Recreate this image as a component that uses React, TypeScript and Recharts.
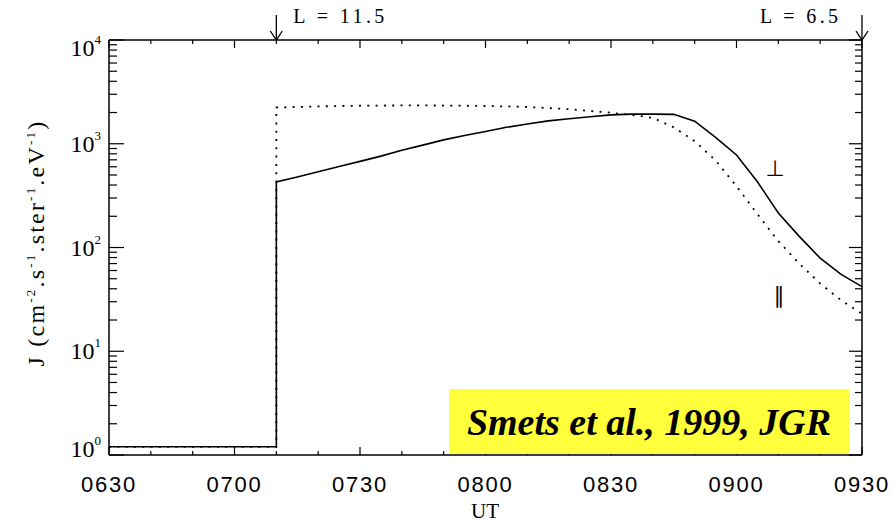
import { Line, LineChart, ReferenceLine, XAxis, YAxis } from "recharts";

// minutes after 06:30 UT
const times = [
  0, 40, 40, 45, 50, 55, 60, 65, 70, 75, 80, 85, 90, 95, 100, 105, 110, 115,
  120, 125, 130, 135, 140, 145, 150, 155, 160, 165, 170, 175, 180,
];
// perpendicular flux (solid)
const perpFlux = [
  1.2, 1.2, 428, 479, 537, 603, 676, 760, 865, 970, 1090, 1200, 1315, 1440,
  1550, 1660, 1740, 1820, 1900, 1930, 1930, 1920, 1650, 1150, 780, 430, 215,
  128, 79, 55, 42,
];
// parallel flux (dotted)
const parFlux = [
  1.2, 1.2, 2235, 2265, 2290, 2310, 2325, 2335, 2340, 2340, 2335, 2325, 2310,
  2290, 2260, 2210, 2150, 2070, 1990, 1890, 1780, 1440, 1060, 690, 390, 210,
  115, 70, 45, 31, 23,
];

const xMajorTicks = [0, 30, 60, 90, 120, 150, 180];
const xTickLabels = ["0630", "0700", "0730", "0800", "0830", "0900", "0930"];
const arrowTimes = [40, 180];
const arrowLabels = ["L = 11.5", "L = 6.5"];
const decades = [1, 10, 100, 1000, 10000];

const data = times.map((t, i) => ({ t, perp: perpFlux[i], par: parFlux[i] }));

const xTicks: number[] = [];
for (let m = 0; m <= 180; m += 10) xTicks.push(m);

const yTicks: number[] = [];
decades.slice(0, -1).forEach((d) => {
  for (let k = 1; k < 10; k++) yTicks.push(k * d);
});
yTicks.push(10000);

// plot frame
const TOP = 40;
const BOTTOM = 455;
const LEFT = 109;
const RIGHT = 862;

const serif = "'Liberation Serif', 'DejaVu Serif', serif";
const sans = "'Liberation Sans', Arial, sans-serif";

function XTick(props: any) {
  const { x, payload } = props;
  const v = payload.value;
  const idx = xMajorTicks.indexOf(v);
  const len = idx >= 0 ? 8 : 4;
  const arrowIdx = arrowTimes.indexOf(v);
  return (
    <g>
      <line x1={x} x2={x} y1={BOTTOM} y2={BOTTOM - len} stroke="#000" strokeWidth={1.2} />
      <line x1={x} x2={x} y1={TOP} y2={TOP + len} stroke="#000" strokeWidth={1.2} />
      {idx >= 0 && (
        <text
          x={x}
          y={484}
          textAnchor="middle"
          dominantBaseline="central"
          fontFamily={sans}
          fontSize={22}
          letterSpacing={1.8}
          fill="#000"
        >
          {xTickLabels[idx]}
        </text>
      )}
      {arrowIdx >= 0 && (
        <g>
          <line x1={x} x2={x} y1={15} y2={TOP} stroke="#000" strokeWidth={1.3} />
          <polyline
            points={`${x - 6},${TOP - 9} ${x},${TOP} ${x + 6},${TOP - 9}`}
            fill="none"
            stroke="#000"
            strokeWidth={1.3}
          />
          <text
            x={arrowIdx === 0 ? x + 17 : x - 102}
            y={16}
            dominantBaseline="central"
            fontFamily={serif}
            fontSize={20}
            textLength={arrowIdx === 0 ? 91 : 78}
            lengthAdjust="spacing"
            fill="#000"
          >
            {arrowLabels[arrowIdx]}
          </text>
        </g>
      )}
    </g>
  );
}

function YTick(props: any) {
  const { y, payload } = props;
  const v = payload.value;
  const exp = Math.round(Math.log10(v));
  const major = Math.abs(v - 10 ** exp) < 1e-6;
  const labelY = Math.min(Math.max(y, 48), 449);
  return (
    <g>
      <line x1={LEFT} x2={LEFT + (major ? 15 : 8)} y1={y} y2={y} stroke="#000" strokeWidth={1.2} />
      <line x1={RIGHT} x2={RIGHT - (major ? 13 : 7)} y1={y} y2={y} stroke="#000" strokeWidth={1.2} />
      {major && (
        <text
          x={101}
          y={labelY}
          textAnchor="end"
          dominantBaseline="central"
          fontFamily={serif}
          fontSize={24}
          fill="#000"
        >
          10
          <tspan fontSize={13} dy={-9}>
            {exp}
          </tspan>
        </text>
      )}
    </g>
  );
}

export default function App() {
  return (
    <div
      style={{
        position: "absolute",
        left: 0,
        top: 0,
        width: 892,
        height: 523,
        background: "#fff",
      }}
    >
      <LineChart
        width={892}
        height={523}
        data={data}
        margin={{ top: TOP, right: 892 - RIGHT, bottom: 0, left: 0 }}
      >
        <XAxis
          dataKey="t"
          type="number"
          domain={[0, 180]}
          ticks={xTicks}
          interval={0}
          tickLine={false}
          tick={(p: any) => <XTick {...p} />}
          axisLine={{ stroke: "#000", strokeWidth: 1.5 }}
          height={523 - BOTTOM}
        />
        <YAxis
          type="number"
          scale="log"
          domain={[1, 10000]}
          allowDataOverflow
          ticks={yTicks}
          interval={0}
          tickLine={false}
          tick={(p: any) => <YTick {...p} />}
          axisLine={{ stroke: "#000", strokeWidth: 1.5 }}
          width={LEFT}
        />
        <ReferenceLine y={10000} stroke="#000" strokeWidth={1.5} ifOverflow="visible" />
        <ReferenceLine x={180} stroke="#000" strokeWidth={1.5} ifOverflow="visible" />
        <Line
          dataKey="par"
          type="linear"
          stroke="#000"
          strokeWidth={1.8}
          strokeDasharray="2 6.3"
          dot={false}
          isAnimationActive={false}
        />
        <Line
          dataKey="perp"
          type="linear"
          stroke="#000"
          strokeWidth={1.6}
          dot={false}
          isAnimationActive={false}
        />
      </LineChart>

      <svg
        width={892}
        height={523}
        style={{ position: "absolute", left: 0, top: 0, pointerEvents: "none" }}
      >
        <text
          transform="translate(44 243) rotate(-90)"
          textAnchor="middle"
          fontFamily={serif}
          fontSize={24}
          letterSpacing={2.2}
          fill="#000"
        >
          J (cm
          <tspan fontSize={13} dy={-9}>-2</tspan>
          <tspan dy={9}>.s</tspan>
          <tspan fontSize={13} dy={-9}>-1</tspan>
          <tspan dy={9}>.ster</tspan>
          <tspan fontSize={13} dy={-9}>-1</tspan>
          <tspan dy={9}>.eV</tspan>
          <tspan fontSize={13} dy={-9}>-1</tspan>
          <tspan dy={9}>)</tspan>
        </text>
        <text
          x={485}
          y={511}
          textAnchor="middle"
          dominantBaseline="central"
          fontFamily={serif}
          fontSize={21}
          fill="#000"
        >
          UT
        </text>
        <text x={775} y={168} textAnchor="middle" dominantBaseline="central" fontFamily="'DejaVu Sans', sans-serif" fontSize={22} fill="#000">
          ⊥
        </text>
        <text x={779} y={295} textAnchor="middle" dominantBaseline="central" fontFamily="'DejaVu Sans', sans-serif" fontSize={22} fill="#000">
          ∥
        </text>
      </svg>

      <div
        style={{
          position: "absolute",
          left: 449,
          top: 389,
          width: 400,
          height: 65,
          background: "#ffff3c",
          display: "flex",
          alignItems: "center",
          justifyContent: "center",
          fontFamily: serif,
          fontWeight: "bold",
          fontStyle: "italic",
          fontSize: 38,
          color: "#000",
          whiteSpace: "nowrap",
        }}
      >
        Smets et al., 1999, JGR
      </div>
    </div>
  );
}
